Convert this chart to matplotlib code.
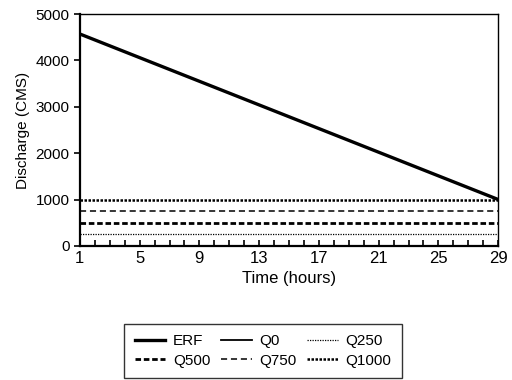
import matplotlib.pyplot as plt
from matplotlib.ticker import MultipleLocator

plt.rcParams['font.family'] = ['Liberation Sans', 'DejaVu Sans']

# data
hours = [1, 29]
erf = [4570, 1000]
q0 = [0, 0]
q250 = [250, 250]
q500 = [500, 500]
q750 = [750, 750]
q1000 = [1000, 1000]
xticks = [1, 5, 9, 13, 17, 21, 25, 29]
yticks = [0, 1000, 2000, 3000, 4000, 5000]

fig = plt.figure(figsize=(5.12, 3.8), dpi=100)
ax = fig.add_axes([0.156, 0.353, 0.817, 0.61])

h_erf, = ax.plot(hours, erf, color='black', lw=2.4, label='ERF')
h_q0, = ax.plot(hours, q0, color='black', lw=1.3, label='Q0')
h_q250, = ax.plot(hours, q250, color='black', lw=0.9, ls=(0, (1, 1)), label='Q250')
h_q500, = ax.plot(hours, q500, color='black', lw=2.0, ls=(0, (2, 1)), label='Q500')
h_q750, = ax.plot(hours, q750, color='black', lw=1.1, ls=(0, (4, 2.5)), label='Q750')
h_q1000, = ax.plot(hours, q1000, color='black', lw=1.8, ls=(0, (1, 0.6)), label='Q1000')

ax.set_xlim(1, 29)
ax.set_ylim(0, 5000)
ax.set_xticks(xticks)
ax.xaxis.set_minor_locator(MultipleLocator(1))
ax.set_yticks(yticks)
ax.tick_params(axis='x', which='both', direction='in', length=4, width=1.2, labelsize=12, pad=4)
ax.tick_params(axis='y', direction='out', length=4, width=1.2, labelsize=11)
for side in ['left', 'bottom']:
    ax.spines[side].set_linewidth(1.6)
for side in ['top', 'right']:
    ax.spines[side].set_linewidth(1.0)

ax.set_xlabel('Time (hours)', fontsize=12, labelpad=3)
ax.set_ylabel('Discharge (CMS)', fontsize=11, labelpad=4)

# row-wise legend order: matplotlib fills columns first
handles = [h_erf, h_q500, h_q0, h_q750, h_q250, h_q1000]
leg = fig.legend(handles=handles, labels=[h.get_label() for h in handles],
                 loc='center', bbox_to_anchor=(0.514, 0.076), ncol=3, fontsize=11,
                 frameon=True, fancybox=False, edgecolor='black', handlelength=2.0,
                 handletextpad=0.5, columnspacing=0.7, borderpad=0.7, labelspacing=0.35)
leg.get_frame().set_linewidth(1.0)

fig.savefig('out.png', dpi=100)
